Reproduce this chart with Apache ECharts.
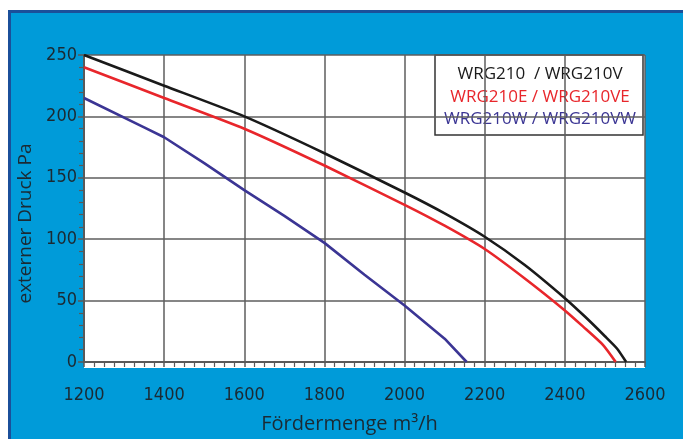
<!DOCTYPE html>
<html><head><meta charset="utf-8">
<script src="https://cdn.jsdelivr.net/npm/echarts@6/dist/echarts.min.js"></script>
<style>html,body{margin:0;padding:0;background:#fff}#c{width:683px;height:439px}</style>
</head><body><div id="c"></div>
<script>
var seriesNames = ['WRG210  / WRG210V', 'WRG210E / WRG210VE', 'WRG210W / WRG210VW'];
var seriesColors = ['#1a1a1a', '#e8262b', '#3b3594'];
var flowBlack = [1200, 1400, 1600, 1800, 2000, 2100, 2200, 2300, 2400, 2450, 2500, 2530, 2553];
var pressBlack = [250, 225, 200, 170, 138, 121, 102, 79, 52, 37, 21, 11, 0];
var flowRed = [1200, 1400, 1600, 1800, 2000, 2100, 2200, 2300, 2400, 2445, 2495, 2527];
var pressRed = [240, 215, 190, 160, 128, 111, 92, 68, 42, 29, 14, 0];
var flowBlue = [1200, 1350, 1400, 1500, 1600, 1700, 1800, 1900, 2000, 2100, 2155];
var pressBlue = [215, 191, 183, 162, 140, 119, 97, 71, 46, 19, 0];
var xTicks = [1200, 1400, 1600, 1800, 2000, 2200, 2400, 2600];
var yTicks = [0, 50, 100, 150, 200, 250];
var smoothing = [0.2, 0.2, 0];

function pairs(xs, ys){ return xs.map(function(x,i){ return [x, ys[i]]; }); }
var allData = [pairs(flowBlack, pressBlack), pairs(flowRed, pressRed), pairs(flowBlue, pressBlue)];

var chart = echarts.init(document.getElementById('c'), null, {renderer:'canvas'});
var labelFont = 'DejaVu Sans Condensed';
var textColor = '#1b2a33';

var option = {
  backgroundColor: '#ffffff',
  animation: false,
  grid: {left: 84, right: 38, top: 55, bottom: 71},
  xAxis: {
    type: 'value', min: xTicks[0], max: xTicks[xTicks.length-1], interval: 200,
    name: 'Fördermenge m³/h', nameLocation: 'middle', nameGap: 52,
    nameTextStyle: {fontFamily: 'Open Sans', fontSize: 20, color: textColor, padding: [0, 30, 0, 0]},
    axisLine: {show: true, lineStyle: {color: '#5a5a5a', width: 2}},
    axisTick: {show: true, length: 5, lineStyle: {color: '#5a5a5a', width: 1.5}},
    minorTick: {show: true, splitNumber: 8, length: 5, lineStyle: {color: '#5a5a5a', width: 1.2}},
    axisLabel: {margin: 24, fontFamily: labelFont, fontSize: 18, color: textColor, formatter: function(v){ return String(v); }},
    splitLine: {show: true, lineStyle: {color: '#5e5e5e', width: 1.5}}
  },
  yAxis: {
    type: 'value', min: yTicks[0], max: yTicks[yTicks.length-1], interval: 50,
    name: 'externer Druck Pa', nameLocation: 'middle', nameGap: 49, nameRotate: 90,
    nameTextStyle: {fontFamily: 'Open Sans', fontSize: 19, color: textColor, padding: [0, 30, 0, 0]},
    axisLine: {show: true, lineStyle: {color: '#5a5a5a', width: 2}},
    axisTick: {show: true, length: 6, lineStyle: {color: '#5a5a5a', width: 1.5}},
    minorTick: {show: true, splitNumber: 5, length: 5, lineStyle: {color: '#5a5a5a', width: 1.2}},
    axisLabel: {margin: 7, fontFamily: labelFont, fontSize: 18, color: textColor, formatter: function(v){ return String(v); }},
    splitLine: {show: true, lineStyle: {color: '#5e5e5e', width: 1.5}}
  },
  series: allData.map(function(d, i){
    return {
      name: seriesNames[i], type: 'line', data: d, symbol: 'none',
      smooth: smoothing[i],
      lineStyle: {color: seriesColors[i], width: 2.6}, z: 3
    };
  }),
  graphic: [
    {type: 'rect', z: -10, silent: true, shape: {x: 8, y: 10, width: 700, height: 440}, style: {fill: '#009bd9'}},
    {type: 'rect', z: -9, silent: true, shape: {x: 8, y: 10, width: 700, height: 3}, style: {fill: '#1b4f9a'}},
    {type: 'rect', z: -9, silent: true, shape: {x: 8, y: 10, width: 3, height: 440}, style: {fill: '#1b4f9a'}},
    {type: 'rect', z: -8, silent: true, shape: {x: 84, y: 55, width: 561, height: 313}, style: {fill: '#ffffff'}},
    {type: 'group', z: 100, children: [
      {type: 'rect', shape: {x: 435, y: 55, width: 208, height: 80}, style: {fill: '#ffffff', stroke: '#333', lineWidth: 1.5}},
      {type: 'text', style: {x: 540, y: 74, text: seriesNames[0], fill: seriesColors[0], font: '17px "Open Sans"', textAlign: 'center', textVerticalAlign: 'middle'}},
      {type: 'text', style: {x: 540, y: 97, text: seriesNames[1], fill: seriesColors[1], font: '17px "Open Sans"', textAlign: 'center', textVerticalAlign: 'middle'}},
      {type: 'text', style: {x: 540, y: 119, text: seriesNames[2], fill: seriesColors[2], font: '17px "Open Sans"', textAlign: 'center', textVerticalAlign: 'middle'}}
    ]}
  ]
};
chart.setOption(option);
</script></body></html>
